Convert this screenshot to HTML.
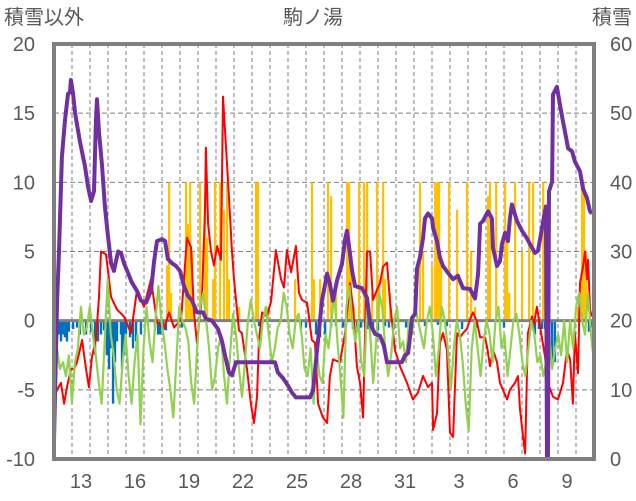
<!DOCTYPE html>
<html><head><meta charset="utf-8"><style>
html,body{margin:0;padding:0;background:#fff;}
svg{display:block;}
text{font-family:"Liberation Sans","Noto Sans CJK JP",sans-serif;fill:#595959;}
</style></head><body>
<svg id="chart" width="636" height="501" viewBox="0 0 636 501" xmlns="http://www.w3.org/2000/svg">
<text x="4" y="24" font-size="20">積雪以外</text>
<text x="313" y="24" font-size="20" text-anchor="middle">駒ノ湯</text>
<text x="632" y="24" font-size="20" text-anchor="end">積雪</text>
<g id="grid"></g>
<g id="bars"></g>
<g id="lines"></g>
<g id="axes"></g>
</svg>
<script>
const dayLabels=["13","16","19","22","25","28","31","3","6","9"];
const dayLabelIdx=[1,4,7,10,13,16,19,22,25,28];
const leftTicks=[-10,-5,0,5,10,15,20];
const rightTicks=[0,10,20,30,40,50,60];
const redT=[0,.17,.39,.56,.72,.94,1.11,1.28,1.56,1.78,1.94,2.11,2.33,2.5,2.61,2.89,3.17,3.5,3.89,4.28,4.61,5,5.39,5.72,6.11,6.39,6.67,7.06,7.39,7.61,7.78,7.94,8.22,8.39,8.44,8.56,8.72,8.89,9.06,9.28,9.39,9.67,9.89,10,10.28,10.44,10.72,10.94,11.11,11.28,11.39,11.56,11.83,12.06,12.33,12.61,12.78,12.94,13.17,13.44,13.61,13.78,14.06,14.33,14.5,14.67,14.94,15.17,15.33,15.5,15.89,16.17,16.44,16.61,16.83,17,17.17,17.39,17.56,17.72,17.94,18.11,18.28,18.5,18.67,18.94,19.22,19.61,19.94,20.22,20.5,20.78,21,21.06,21.28,21.44,21.61,21.83,22,22.17,22.39,22.56,22.72,22.94,23.11,23.28,23.5,23.67,23.94,24.06,24.22,24.39,24.61,24.78,24.94,25.17,25.33,25.61,25.78,25.89,26.06,26.17,26.33,26.56,26.61,26.83,27,27.28,27.44,27.72,28,28.28,28.5,28.67,28.83,28.94,29.11,29.22,29.39,29.5,29.61,29.67,29.78,29.89];
const redV=[-5.5,-5,-4.5,-6,-4.8,-3.5,-3.5,-3,-1.4,-3.5,-4.8,-2.6,-1.4,1.7,5,4.8,1.7,.8,.3,-.9,2.2,1,3,-.1,-.6,.6,-.5,.1,6,5.3,.6,-1.6,1.7,8,12.5,7,5,4,5.4,4.4,16.2,10,5,3,-.7,-.9,-3.5,-6,-7.4,-5.5,-1.4,.6,.3,1.4,5.1,3,2.4,5.1,3.5,5.4,2,1.5,1.3,-1.4,-1.6,-6,-7,-7.4,-4,-2.8,-3,-.9,2.7,1,-3.3,-4.5,-7,5,5,1.5,2.2,2.7,3.9,4.2,1.3,-2.1,-3.3,-4.5,-5.7,-5.2,-4,-4.8,-4.5,-7.9,-6.7,-1.6,-.9,-2.1,-8.1,-8.4,-.9,-1.2,-.9,-.6,.1,.6,-.1,-1.2,-1.2,-1.9,-3.3,-2.1,-3,-4.5,-5,-5.7,-5,-4.5,-4,-6.4,-8.4,-9.6,-.9,.3,-.6,1,-.4,-2.6,-4.5,-5.5,-5.7,-4.5,-2.1,-2.8,-6,-.9,-3.8,2.7,3.9,5,3,4.4,.8,.3];
const greenV=[1.5,-2,-3.5,-3,-4,-2.5,-6,-3,-2,1,-1,-.5,1,-1,-2.5,-4.5,-6,-1.5,3,-1,-2.5,-5,-6,-3,-1,-4,-6,-3,-1,-7.5,-2,1,-1.5,-3,0,2.5,0,-1.5,-3.5,-5,-7,-3,1,0,-.5,-1.5,-4.5,-6,-2,1,2,0,-2,-5,-4,-2,-1,-4,-6,-2.5,.5,-1,-3.5,-5.5,-3,0,1.5,0,-1,-2,0,1,-1,-3,-2,-.5,0,2,1,-1,-2,0,.5,-1,-3.5,-4,-2,-6,-2,-4,-4.5,-1,-2,0,2,-1.5,-4,-7,1,2.5,0,-1.5,0,-3,-4,1.5,-1,-4.5,-1.5,2,1,-2,-4,-2.5,0,1,-2,-1.5,-3,0,-1,1,0,-1,-2,0,1,-1,-4,-2,1,0,-2,-5,-2,0,-1,-3,-6,-8,-2,0,-2,-4,-1.5,0,-1,-3,0,1,-2,-1,-4,-2,0,.5,-1,-3,-4,-2,0,-1,-3,-2.5,-4,-3,-1,-3.5,-2,-1,-2.5,0,-3,0,-2,1,2,0,-1,2,-1,-3];
const snowT=[0,.17,.28,.44,.61,.78,.89,.94,1.06,1.17,1.44,1.72,1.89,2.06,2.22,2.33,2.39,2.5,2.67,2.83,3,3.17,3.33,3.56,3.72,3.89,4.11,4.33,4.61,4.83,5.11,5.39,5.56,5.72,6,6.17,6.33,6.56,6.78,7,7.22,7.44,7.67,7.94,8.28,8.44,8.78,9.11,9.33,9.5,9.72,9.89,10.11,10.33,11.72,12.28,12.44,12.72,13,13.22,13.44,14.22,14.39,14.61,14.89,15.17,15.33,15.5,15.72,16,16.17,16.28,16.39,16.56,16.72,17.11,17.39,17.56,17.83,18.11,18.33,18.5,19.33,19.5,19.67,19.78,19.89,20.06,20.17,20.33,20.5,20.61,20.78,21,21.06,21.28,21.44,21.61,21.89,22.17,22.44,22.72,23.11,23.39,23.56,23.67,23.83,24.11,24.33,24.39,24.61,24.78,24.89,25.06,25.22,25.33,25.44,25.72,26,26.28,26.56,26.72,26.89,27.11,27.28,27.33,27.39,27.44,27.5,27.67,27.72,27.94,28.11,28.28,28.39,28.56,28.78,28.94,29.22,29.39,29.61,29.78,29.89];
const snowV=[2.7,22.9,30,43.7,49,52.8,53,54.8,52.8,50,45.9,42.3,39.4,37.3,38.7,48.8,52,47.3,42.3,36.5,32.2,28.3,27.2,30,29.8,28.3,26.9,25.5,24.3,22.9,22.6,24.3,28.6,31.5,31.8,31.5,28.9,28.3,27.9,27.2,25,23.6,22.9,21.2,21.2,20.3,20,18.8,17.1,15,12.5,12.1,14,14,14,14,12.5,11.7,10.6,9.6,8.9,8.9,9.9,15.7,22.9,26.8,25.3,22.9,25.8,28.2,31.8,33,30.8,27.2,25,24.7,23.3,19.6,18.1,17.8,16.4,14,14,15,15.3,17.6,20.4,21,27.6,29.1,31.9,34.8,35.5,34.8,33.4,31.5,29.1,27.9,26.9,26,26.5,24.7,24.6,23.2,26.8,34,34.4,35.8,34.8,30.5,27.9,28.6,31.1,32.7,31.5,34.8,36.8,34.4,33,31.9,30.5,29.8,30.1,33.4,35.8,36.5,0,0,38.7,40.1,52.7,53.8,51.2,48.8,47.3,44.9,44.5,43,41.6,39.1,37.7,35.8,35.5];
const yelT=[6.28,6.39,6.5,7.33,7.44,7.56,7.67,8.11,8.39,8.5,8.83,8.94,9.22,9.44,9.61,9.72,10.28,11.22,11.33,11.89,13.39,14.33,14.44,14.78,15.22,15.39,15.67,16.28,16.39,16.5,16.67,16.94,17.22,17.39,17.67,17.94,18.06,18.28,18.39,18.67,20.33,20.5,21,21.17,21.28,21.39,21.5,21.94,22.39,22.94,23.17,23.39,24.11,24.22,24.56,25.06,25.17,25.28,25.61,26,26.39,26.61,27.17,27.28,29.11,29.33,29.44,29.56];
const yelV=[4,10,2,10,7,10,5,10,9,6,3,10,10,8,10,3,1,10,10,1,3,10,3,3,10,9,2,10,10,5,1,10,10,10,2,10,3,10,3,2,10,5,4,10,10,10,4,10,8,10,5,1,9,10,10,10,6,2,10,5,10,10,10,3,1,10,10,5];
const bluT=[.17,.28,.39,.5,.61,.72,.83,1.06,1.28,1.44,1.78,2.06,2.28,2.44,2.61,2.78,2.94,3.06,3.17,3.28,3.39,3.5,3.72,3.78,3.89,4,4.22,4.39,4.56,4.83,5.61,5.78,5.89,6.06,6.22,7.11,11.39,13.72,14,14.56,14.78,15.06,15.39,15.67,16.06,16.22,16.61,16.83,17.06,17.28,17.44,17.72,18,18.39,18.61,18.89,19.56,19.72,19.94,20.61,21.33,21.83,22.67,23.5,25,26.72,26.94,27.11,27.28,27.5,27.67,27.83,29.72,29.89];
const bluV=[-1.3,-1,-1.5,-1,-1.2,-1.5,-.8,-.6,-.5,-1,-1,-.8,-2.5,-1.5,-1,-.7,-2.5,-3.5,-2,-6,-3,-1.5,-1,-3.5,-2.5,-1,-1.2,-2,-1.5,-1,-.5,-1,-1,-.5,-.7,-.5,-.4,-.6,-.5,-1,-1.2,-1,-.5,-.4,-.5,-.4,-.6,-.6,-.5,-.5,-.6,-.6,-.7,-.4,-.5,-.6,-.5,-.6,-.5,-.4,-.3,-.4,-.6,-.5,-.5,-1,-.6,-.6,-.6,-.5,-3,-3,-.8,-.5];

const L=54,R=594,T=44,B=459,NDAYS=30;
const xS=d=>L+d*(R-L)/NDAYS;
const yL=v=>B-(v+10)*(B-T)/30;
const yR=v=>B-v*(B-T)/60;
const NS="http://www.w3.org/2000/svg";
function mk(tag,attrs,parent){const e=document.createElementNS(NS,tag);for(const k in attrs)e.setAttribute(k,attrs[k]);parent.appendChild(e);return e;}
const grid=document.getElementById('grid'),bars=document.getElementById('bars'),lines=document.getElementById('lines'),axes=document.getElementById('axes'),svg=document.getElementById('chart');
for(let d=1;d<NDAYS;d++){const g=mk('line',{x1:xS(d),x2:xS(d),y1:T,y2:B,stroke:'#7f7f7f','stroke-width':1,'stroke-dasharray':'4,3'},grid);

}
leftTicks.forEach(v=>{if(v>-10&&v<20&&v!==0){const g=mk('line',{x1:L,x2:R,y1:yL(v),y2:yL(v),stroke:'#7f7f7f','stroke-width':1,'stroke-dasharray':'5,3'},grid);

}
const t=mk('text',{x:35,y:yL(v)+7,'font-size':20,'text-anchor':'end'},axes);t.textContent=v;

});
rightTicks.forEach(v=>{const t=mk('text',{x:610,y:yR(v)+7,'font-size':20},axes);t.textContent=v;

});
dayLabels.forEach((s,i)=>{const t=mk('text',{x:xS(dayLabelIdx[i]+0.5),y:488,'font-size':20,'text-anchor':'middle'},axes);t.textContent=s;

});
yelT.forEach((d,i)=>{const r=mk('rect',{x:xS(d)-1,y:yL(yelV[i]),width:2.2,height:yL(0)-yL(yelV[i]),fill:'#ffc000'},bars);

});
bluT.forEach((d,i)=>{const r=mk('rect',{x:xS(d)-1.2,y:yL(0),width:2.4,height:yL(bluV[i])-yL(0),fill:'#0070c0'},bars);

});
const z=mk('line',{x1:L,x2:R,y1:yL(0),y2:yL(0),stroke:'#808080','stroke-width':3},bars);


function path(ts,vs,ys,color,w,name){const d=ts.map((t,i)=>(i?'L':'M')+xS(t).toFixed(1)+','+ys(vs[i]).toFixed(1)).join('');
const p=mk('path',{d:d,fill:'none',stroke:color,'stroke-width':w,'stroke-linejoin':'round'},lines);

}
path(redT,redV,yL,'#ff0000',2,'red-line');
const greenT=greenV.map((v,i)=>i*NDAYS/(greenV.length-1));
path(greenT,greenV,yL,'#92d050',2.2,'green-line');
path(snowT,snowV,yR,'#7030a0',4,'snow-depth-line');
const f=mk('rect',{x:L,y:T,width:R-L,height:B-T,fill:'none',stroke:'#808080','stroke-width':4},axes);


</script>
</body></html>
